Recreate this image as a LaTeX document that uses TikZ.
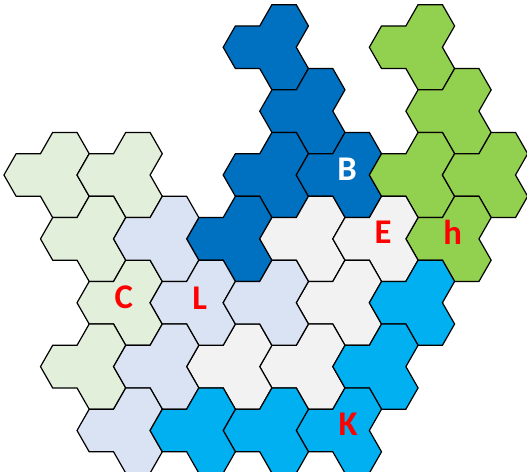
\documentclass[tikz,border=0pt]{standalone}
\usepackage{fontspec}
\setmainfont{Carlito}

% One tile: three hexagons meeting at a corner (colour, column, half-row)
\newcommand{\trihex}[3]{%
    \filldraw[fill=#1, draw=borderColour, line width=0.9pt, line join=miter]
        ({\colStep*(#2)+\xOrigin-\hexR},{\rowStep*(#3)+\yOrigin})
        -- ++(0.5*\hexR,-\hexH) -- ++(\hexR,0) -- ++(0.5*\hexR,-\hexH)
        -- ++(\hexR,0) -- ++(0.5*\hexR,\hexH) -- ++(-0.5*\hexR,\hexH)
        -- ++(0.5*\hexR,\hexH) -- ++(-0.5*\hexR,\hexH) -- ++(-\hexR,0)
        -- ++(-0.5*\hexR,-\hexH) -- ++(-\hexR,0) -- cycle;
}

\begin{document}
\begin{tikzpicture}[x=0.75pt,y=-0.75pt,
    tileLabel/.style={font=\bfseries\fontsize{26}{26}\selectfont, text=labelRed,
        text height=0.64em, text depth=0pt, inner sep=0pt, anchor=center}]
    % Define colours
    \definecolor{borderColour}{HTML}{000000}
    \definecolor{paleGreen}{HTML}{E2EFDA}
    \definecolor{darkBlue}{HTML}{0070C0}
    \definecolor{leafGreen}{HTML}{92D050}
    \definecolor{paleGrey}{HTML}{F2F2F2}
    \definecolor{paleBlue}{HTML}{DAE3F3}
    \definecolor{skyBlue}{HTML}{00B0F0}
    \definecolor{labelRed}{HTML}{FF0000}

    % Define hexagon size and grid
    \def\hexR{24.36}
    \def\hexH{21.29}
    \def\colStep{36.54}
    \def\rowStep{21.29}
    \def\xOrigin{28.3}
    \def\yOrigin{175}

    % Fix the picture size
    \clip (0,0) rectangle (527,471);

    % Draw the tiles, one colour at a time
    \foreach \c/\j in {0/0,2/0,1/3,2/6,1/9}
        \trihex{paleGreen}{\c}{\j};
    \foreach \c/\j in {6/-6,7/-3,6/0,8/0,5/3}
        \trihex{darkBlue}{\c}{\j};
    \foreach \c/\j in {10/-6,11/-3,10/0,12/0,11/3}
        \trihex{leafGreen}{\c}{\j};
    \foreach \c/\j in {7/3,9/3,8/6,7/9,5/9}
        \trihex{paleGrey}{\c}{\j};
    \foreach \c/\j in {3/3,4/6,6/6,3/9,2/12}
        \trihex{paleBlue}{\c}{\j};
    \foreach \c/\j in {10/6,9/9,8/12,6/12,4/12}
        \trihex{skyBlue}{\c}{\j};

    % Label the tiles
    \node[tileLabel, text=white] (labelB) at ({\colStep*8+\xOrigin+\hexR+2},{\yOrigin+1.5}) {B};
    \node[tileLabel] (labelE) at ({\colStep*9+\xOrigin+\hexR+1.5},{\rowStep*3+\yOrigin}) {E};
    \node[tileLabel] (labelH) at ({\colStep*11+\xOrigin+\hexR-2},{\rowStep*3+\yOrigin+1}) {h};
    \node[tileLabel] (labelC) at ({\colStep*2+\xOrigin+\hexR-2},{\rowStep*6+\yOrigin+1}) {C};
    \node[tileLabel] (labelL) at ({\colStep*4+\xOrigin+\hexR+1},{\rowStep*6+\yOrigin+2}) {L};
    \node[tileLabel] (labelK) at ({\colStep*8+\xOrigin+\hexR+3},{\rowStep*12+\yOrigin+1}) {K};

\end{tikzpicture}
\end{document}
